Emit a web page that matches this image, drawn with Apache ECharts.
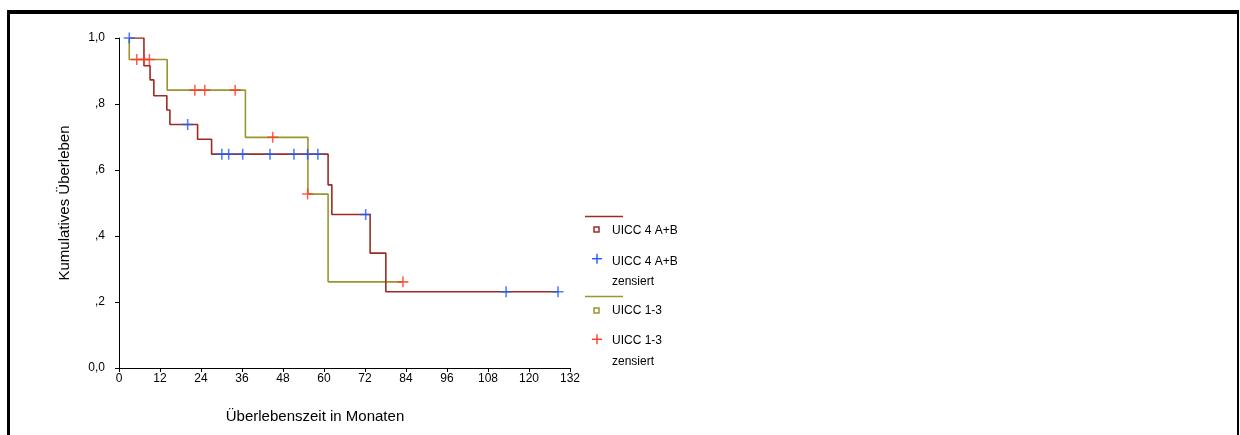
<!DOCTYPE html>
<html>
<head>
<meta charset="utf-8">
<script src="https://cdn.jsdelivr.net/npm/echarts@6/dist/echarts.min.js"></script>
<style>html,body{margin:0;padding:0;background:#fff}#c{width:1240px;height:435px}</style>
</head>
<body>
<div id="c"></div>
<script>
// UICC 4 A+B: Kaplan-Meier step points (time of event, survival after event)
const uicc4Times = [3, 7.3, 9.1, 10.2, 14.0, 14.9, 23.0, 27.1, 61.2, 62.3, 73.5, 78.1, 128.6];
const uicc4Surv  = [1.0, 0.916, 0.873, 0.825, 0.782, 0.738, 0.693, 0.648, 0.555, 0.465, 0.348, 0.231, 0.231];
// UICC 4 A+B censored
const uicc4CensTimes = [3.0, 20.1, 30.1, 32.1, 36.2, 44.2, 51.2, 55.2, 58.2, 72.2, 113.3, 128.5];
const uicc4CensSurv  = [1.0, 0.738, 0.648, 0.648, 0.648, 0.648, 0.648, 0.648, 0.648, 0.465, 0.231, 0.231];
// UICC 1-3
const uicc13Times = [3, 3, 14.1, 37.0, 55.3, 61.2, 83.1];
const uicc13Surv  = [1.0, 0.935, 0.842, 0.699, 0.527, 0.261, 0.261];
// UICC 1-3 censored
const uicc13CensTimes = [5.2, 7.3, 8.9, 22.2, 25.1, 34.0, 45.0, 55.2, 83.1];
const uicc13CensSurv  = [0.935, 0.935, 0.935, 0.842, 0.842, 0.842, 0.699, 0.527, 0.261];
// Axis ticks
const xTicks = [0, 12, 24, 36, 48, 60, 72, 84, 96, 108, 120, 132];
const yTickLabels = {0: '0,0', 0.2: ',2', 0.4: ',4', 0.6: ',6', 0.8: ',8', 1: '1,0'};
const xTitle = 'Überlebenszeit in Monaten';
const yTitle = 'Kumulatives Überleben';

const zip = (a, b) => a.map((v, i) => [v, b[i]]);
const FONT = 'Liberation Sans, Arial, sans-serif';
const C4 = '#9c2b24', C13 = '#9a952c', CB = '#1f5cff', CR = '#ff3a28';
const plus = 'path://M0,4.3h10v1.4h-10z M4.3,0h1.4v10h-1.4z';

const chart = echarts.init(document.getElementById('c'), null, {renderer: 'canvas'});
const txt = (x, y, s) => ({type: 'text', x: x, y: y, style: {text: s, font: '12px ' + FONT, fill: '#000', verticalAlign: 'middle'}});
chart.setOption({
  animation: false,
  backgroundColor: '#fff',
  grid: {left: 119, right: 670, top: 38, bottom: 67},
  xAxis: {
    type: 'value', min: 0, max: 132, interval: 12,
    axisLine: {lineStyle: {color: '#000', width: 1}},
    axisTick: {length: 4, lineStyle: {color: '#000'}},
    axisLabel: {fontFamily: FONT, fontSize: 12, color: '#000', margin: 5,
      formatter: v => xTicks.includes(v) ? String(v) : ''},
    splitLine: {show: false}
  },
  yAxis: {
    type: 'value', min: 0, max: 1, interval: 0.2,
    name: yTitle, nameLocation: 'middle', nameGap: 47,
    nameTextStyle: {fontFamily: FONT, fontSize: 15, color: '#000'},
    axisLine: {show: true, lineStyle: {color: '#000', width: 1}},
    axisTick: {show: true, length: 4, lineStyle: {color: '#000'}},
    axisLabel: {fontFamily: FONT, fontSize: 12, color: '#000', margin: 14,
      formatter: v => yTickLabels[Math.round(v * 10) / 10] || ''},
    splitLine: {show: false}
  },
  series: [
    {type: 'line', step: 'end', data: zip(uicc13Times, uicc13Surv), symbol: 'none',
     lineStyle: {color: C13, width: 1.6}, z: 2},
    {type: 'line', step: 'end', data: zip(uicc4Times, uicc4Surv), symbol: 'none',
     lineStyle: {color: C4, width: 1.6}, z: 3},
    {type: 'scatter', data: zip(uicc13CensTimes, uicc13CensSurv), symbol: plus, symbolSize: 11,
     itemStyle: {color: CR}, z: 4},
    {type: 'scatter', data: zip(uicc4CensTimes, uicc4CensSurv), symbol: plus, symbolSize: 11,
     itemStyle: {color: CB}, z: 5}
  ],
  graphic: [
    {type: 'rect', shape: {x: 7, y: 10, width: 3, height: 425}, style: {fill: '#000'}},
    {type: 'rect', shape: {x: 7, y: 10, width: 1232, height: 4}, style: {fill: '#000'}},
    {type: 'rect', shape: {x: 1237, y: 10, width: 2, height: 425}, style: {fill: '#000'}},
    {type: 'text', x: 315, y: 417, style: {text: xTitle, font: '15px ' + FONT, fill: '#000', align: 'center', verticalAlign: 'middle'}},
    // legend
    {type: 'line', shape: {x1: 585, y1: 216.5, x2: 623, y2: 216.5}, style: {stroke: C4, lineWidth: 1.5}},
    {type: 'rect', shape: {x: 594, y: 227, width: 5, height: 5}, style: {fill: '#fff', stroke: C4, lineWidth: 1.5}},
    txt(612, 231, 'UICC 4 A+B'),
    {type: 'rect', shape: {x: 592, y: 258, width: 10, height: 1.4}, style: {fill: CB}},
    {type: 'rect', shape: {x: 596.3, y: 253.7, width: 1.4, height: 10}, style: {fill: CB}},
    txt(612, 262, 'UICC 4 A+B'),
    txt(612, 282, 'zensiert'),
    {type: 'line', shape: {x1: 585, y1: 296.5, x2: 623, y2: 296.5}, style: {stroke: C13, lineWidth: 1.5}},
    {type: 'rect', shape: {x: 594, y: 308, width: 5, height: 5}, style: {fill: '#fff', stroke: C13, lineWidth: 1.5}},
    txt(612, 311, 'UICC 1-3'),
    {type: 'rect', shape: {x: 592, y: 338.6, width: 10, height: 1.4}, style: {fill: CR}},
    {type: 'rect', shape: {x: 596.3, y: 334.3, width: 1.4, height: 10}, style: {fill: CR}},
    txt(612, 341, 'UICC 1-3'),
    txt(612, 362, 'zensiert')
  ]
});
</script>
</body>
</html>
